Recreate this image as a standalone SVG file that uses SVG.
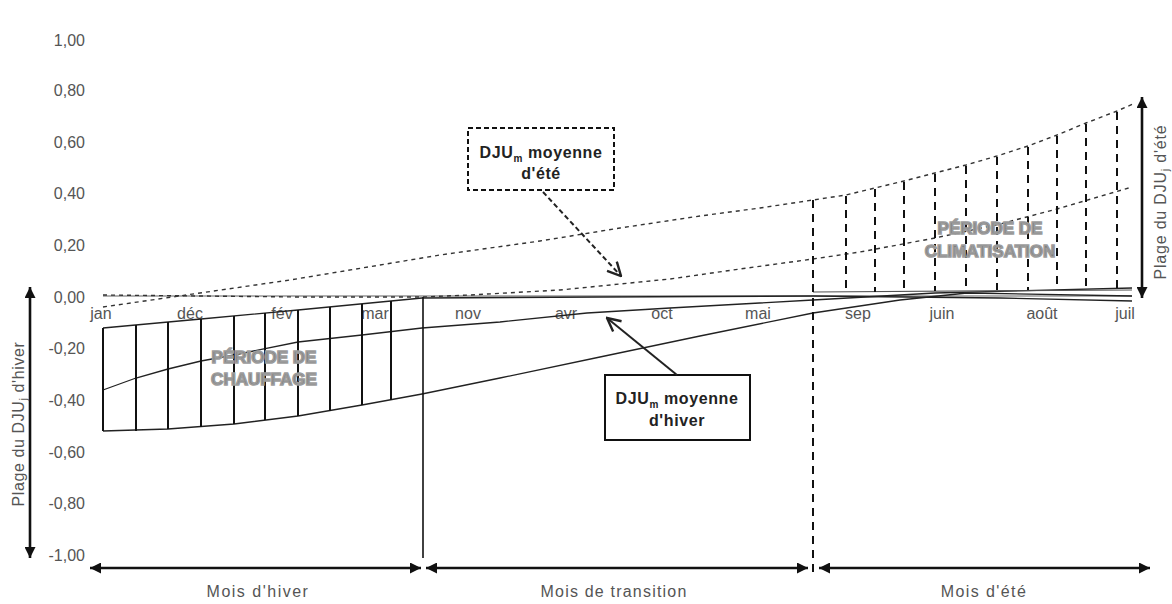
<svg xmlns="http://www.w3.org/2000/svg" width="1172" height="604" viewBox="0 0 1172 604">
  <style>
    .lbl { font-family: "Liberation Sans", Arial, sans-serif; font-size: 16px; fill: #555; }
    .ytick { text-anchor: end; }
    .month { text-anchor: middle; }
    .band { font-family: "Liberation Sans", Arial, sans-serif; font-size: 17px; font-weight: bold; fill: #7c7c7c; stroke: #9c9c9c; stroke-width: 1.6; text-anchor: middle; }
    .boxtxt { font-family: "Liberation Sans", Arial, sans-serif; font-size: 16px; font-weight: bold; fill: #222; text-anchor: middle; letter-spacing: 0.6px; }
    .curve { fill: none; stroke: #222; stroke-width: 1.3; }
    .dcurve { fill: none; stroke: #333; stroke-width: 1.4; stroke-dasharray: 4 4; }
    .hv { stroke: #111; stroke-width: 2; }
    .cv { stroke: #111; stroke-width: 2; stroke-dasharray: 8 6; }
    .axarrow { stroke: #111; stroke-width: 2.6; fill: none; marker-start: url(#ah); marker-end: url(#ah); }
  </style>
  <defs>
    <marker id="ah" viewBox="0 0 10 10" refX="10" refY="5" markerWidth="11" markerHeight="11" markerUnits="userSpaceOnUse" orient="auto-start-reverse">
      <path d="M0,0 L10,5 L0,10 z" fill="#111"/>
    </marker>
    <marker id="open" viewBox="0 0 12 12" refX="11" refY="6" markerWidth="16" markerHeight="16" markerUnits="userSpaceOnUse" orient="auto">
      <path d="M1,1 L11,6 L1,11" fill="none" stroke="#222" stroke-width="1.8"/>
    </marker>
  </defs>

  <rect width="1172" height="604" fill="#fff"/>

  <!-- value scale -->
  <g id="y-axis" class="lbl ytick">
    <text x="85" y="46">1,00</text>
    <text x="85" y="96">0,80</text>
    <text x="85" y="148">0,60</text>
    <text x="85" y="199">0,40</text>
    <text x="85" y="251">0,20</text>
    <text x="85" y="303">0,00</text>
    <text x="85" y="354">-0,20</text>
    <text x="85" y="406">-0,40</text>
    <text x="85" y="458">-0,60</text>
    <text x="85" y="509">-0,80</text>
    <text x="85" y="561">-1,00</text>
  </g>

  <!-- zero line -->
  <g id="zero-line">
    <line x1="103" y1="296" x2="1132" y2="296" stroke="#b0b0b0" stroke-width="2"/>
  </g>

  <!-- month labels -->
  <g id="months" class="lbl month">
    <text x="101" y="319">jan</text>
    <text x="190" y="319">déc</text>
    <text x="282" y="319">fév</text>
    <text x="375" y="319">mar</text>
    <text x="468" y="319">nov</text>
    <text x="566" y="319">avr</text>
    <text x="662" y="319">oct</text>
    <text x="758" y="319">mai</text>
    <text x="858" y="319">sep</text>
    <text x="942" y="319">juin</text>
    <text x="1042" y="319">août</text>
    <text x="1125" y="319">juil</text>
  </g>

  <!-- heating period band -->
  <g id="heating-band">
    <polyline class="curve" points="103,328 201,319 298,310 391,301 422,298 600,297 813,296 1000,298 1132,301"/>
    <polyline class="curve" points="103,390 136,378 168,369 201,361 234,355 298,342 362,335 422,328 500,322 587,313 670,308 813,300 935,293 1132,288"/>
    <polyline class="curve" points="103,431 168,429 234,424 298,416 362,405 422,394 500,378 600,357 700,336 813,313 900,300 967,293 1132,296"/>
    <line class="hv" x1="103" y1="328" x2="103" y2="431"/>
    <line class="hv" x1="136" y1="325" x2="136" y2="431"/>
    <line class="hv" x1="168" y1="322" x2="168" y2="429"/>
    <line class="hv" x1="201" y1="319" x2="201" y2="427"/>
    <line class="hv" x1="234" y1="316" x2="234" y2="424"/>
    <line class="hv" x1="265" y1="313" x2="265" y2="420"/>
    <line class="hv" x1="298" y1="310" x2="298" y2="416"/>
    <line class="hv" x1="330" y1="307" x2="330" y2="411"/>
    <line class="hv" x1="362" y1="304" x2="362" y2="405"/>
    <line class="hv" x1="391" y1="301" x2="391" y2="400"/>
    <text class="band" x="264" y="363">PÉRIODE DE</text>
    <text class="band" x="264" y="385">CHAUFFAGE</text>
  </g>

  <!-- cooling period band -->
  <g id="cooling-band">
    <polyline class="dcurve" points="103,307 200,293 290,280 380,265 440,255 540,241 620,228 700,216 760,208 813,200 846,195 875,188 904,181 935,173 966,165 997,156 1028,146 1057,135 1086,123 1117,111 1133,104"/>
    <polyline class="dcurve" points="103,295 200,296 300,297 423,297 470,295 560,290 620,284 670,279 740,269 813,259 860,252 935,238 1000,224 1057,209 1132,187"/>
    <line x1="813" y1="292" x2="1132" y2="290" stroke="#555" stroke-width="1.2"/>
    <line class="cv" x1="846" y1="196" x2="846" y2="292"/>
    <line class="cv" x1="875" y1="189" x2="875" y2="292"/>
    <line class="cv" x1="904" y1="182" x2="904" y2="291"/>
    <line class="cv" x1="935" y1="174" x2="935" y2="291"/>
    <line class="cv" x1="966" y1="166" x2="966" y2="291"/>
    <line class="cv" x1="997" y1="157" x2="997" y2="290"/>
    <line class="cv" x1="1028" y1="147" x2="1028" y2="290"/>
    <line class="cv" x1="1057" y1="136" x2="1057" y2="289"/>
    <line class="cv" x1="1086" y1="124" x2="1086" y2="289"/>
    <line class="cv" x1="1117" y1="112" x2="1117" y2="288"/>
    <text class="band" x="990" y="234">PÉRIODE DE</text>
    <text class="band" x="990" y="257">CLIMATISATION</text>
  </g>

  <!-- season boundaries -->
  <g id="boundaries">
    <line x1="423" y1="297" x2="423" y2="558" stroke="#111" stroke-width="1.6"/>
    <line x1="813" y1="200" x2="813" y2="578" stroke="#111" stroke-width="2" stroke-dasharray="8 6"/>
  </g>

  <!-- range arrows -->
  <g id="winter-range">
    <line class="axarrow" x1="30" y1="287" x2="30" y2="558"/>
    <text class="lbl" transform="translate(24,424) rotate(-90)" text-anchor="middle" letter-spacing="0.6">Plage du DJU<tspan font-size="11" dy="3">j</tspan><tspan dy="-3"> d'hiver</tspan></text>
  </g>
  <g id="summer-range">
    <line class="axarrow" x1="1142" y1="97" x2="1142" y2="298"/>
    <text class="lbl" transform="translate(1166,202) rotate(-90)" text-anchor="middle" letter-spacing="0.8">Plage du DJU<tspan font-size="11" dy="3">j</tspan><tspan dy="-3"> d'été</tspan></text>
  </g>

  <!-- season spans -->
  <g id="season-spans">
    <line class="axarrow" x1="90" y1="568" x2="421" y2="568"/>
    <line class="axarrow" x1="426" y1="568" x2="808" y2="568"/>
    <line class="axarrow" x1="819" y1="568" x2="1150" y2="568"/>
    <text class="lbl month" x="258" y="597" font-size="15" letter-spacing="1.5">Mois d'hiver</text>
    <text class="lbl month" x="614" y="597" font-size="15" letter-spacing="1.2">Mois de transition</text>
    <text class="lbl month" x="984" y="597" font-size="15" letter-spacing="1.4">Mois d'été</text>
  </g>

  <!-- callout boxes -->
  <g id="box-summer">
    <rect x="468" y="128" width="146" height="62" fill="#fff" stroke="#111" stroke-width="2" stroke-dasharray="5 3"/>
    <text class="boxtxt" x="541" y="158">DJU<tspan font-size="10" dy="4">m</tspan><tspan dy="-4"> moyenne</tspan></text>
    <text class="boxtxt" x="541" y="179">d'été</text>
  </g>
  <g id="box-winter">
    <rect x="605" y="375" width="145" height="65" fill="#fff" stroke="#111" stroke-width="2"/>
    <text class="boxtxt" x="677" y="404">DJU<tspan font-size="10" dy="4">m</tspan><tspan dy="-4"> moyenne</tspan></text>
    <text class="boxtxt" x="677" y="426">d'hiver</text>
  </g>

  <!-- callout pointers -->
  <g id="connectors">
    <line x1="543" y1="192" x2="621" y2="276" stroke="#222" stroke-width="2" stroke-dasharray="5 3" marker-end="url(#open)"/>
    <line x1="677" y1="375" x2="607" y2="318" stroke="#222" stroke-width="2" marker-end="url(#open)"/>
  </g>
</svg>
